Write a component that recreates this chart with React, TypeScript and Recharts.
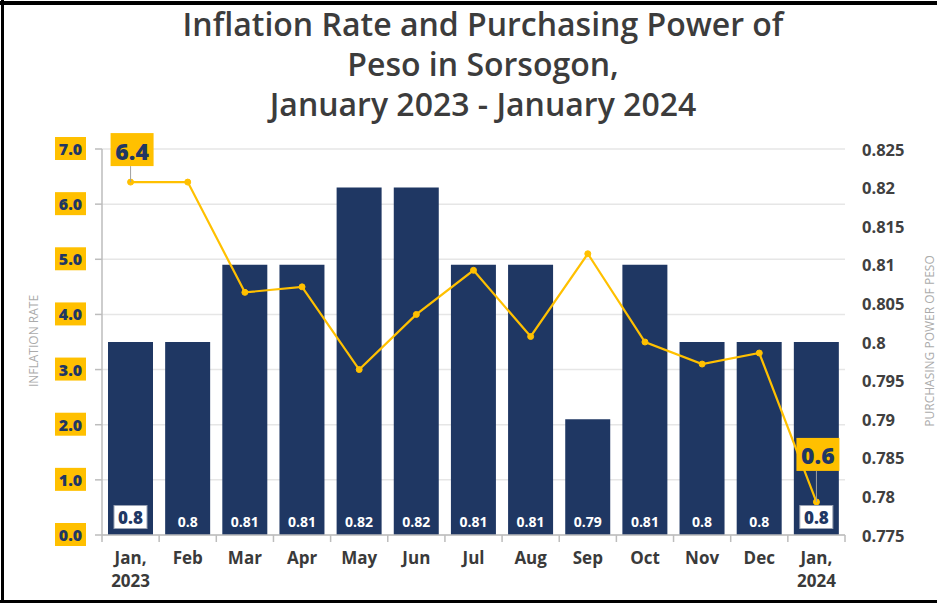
import React from 'react';
import { ComposedChart, Bar, Line, XAxis, YAxis, CartesianGrid, LabelList } from 'recharts';

const categories = ['Jan, 2023', 'Feb', 'Mar', 'Apr', 'May', 'Jun', 'Jul', 'Aug', 'Sep', 'Oct', 'Nov', 'Dec', 'Jan, 2024'];
const purchasingPower = [0.8, 0.8, 0.81, 0.81, 0.82, 0.82, 0.81, 0.81, 0.79, 0.81, 0.8, 0.8, 0.8];
const inflationRate = [6.4, 6.4, 4.4, 4.5, 3.0, 4.0, 4.8, 3.6, 5.1, 3.5, 3.1, 3.3, 0.6];
const leftTicks = [0, 1, 2, 3, 4, 5, 6, 7];
const rightTicks = [0.775, 0.78, 0.785, 0.79, 0.795, 0.8, 0.805, 0.81, 0.815, 0.82, 0.825];
const titleLines = ['Inflation Rate and Purchasing Power of', 'Peso in Sorsogon,', 'January 2023 - January 2024'];

const data = categories.map((c, i) => ({ month: c, pp: purchasingPower[i], inf: inflationRate[i] }));

const W = 937;
const H = 603;
const PLOT_LEFT = 102;
const PLOT_RIGHT = 845;
const PLOT_TOP = 149;
const PLOT_BOTTOM = 535;
const BAND = (PLOT_RIGHT - PLOT_LEFT) / categories.length;

const NAVY = '#1F3763';
const YELLOW = '#FFC000';
const FONT = '"Open Sans", "Noto Sans", sans-serif';
const LAST = categories.length - 1;

const LeftTick = (props: any) => {
  const { y, payload } = props;
  const right = 86;
  return (
    <g>
      <rect x={right - 31} y={y - 12} width={31} height={23} fill={YELLOW} />
      <text x={right - 15.5} y={y} textAnchor="middle" dominantBaseline="central" fill={NAVY}
        fontFamily={FONT} fontWeight={800} fontSize={16}>
        {Number(payload.value).toFixed(1)}
      </text>
    </g>
  );
};

const RightTick = (props: any) => {
  const { y, payload } = props;
  return (
    <text x={862} y={y} textAnchor="start" dominantBaseline="central" fill="#404040"
      fontFamily={FONT} fontWeight={700} fontSize={16.5}>
      {String(payload.value)}
    </text>
  );
};

const XTick = (props: any) => {
  const { x, payload, index } = props;
  const parts = String(payload.value).split(', ');
  const lines = parts.length > 1 ? [parts[0] + ',', parts[1]] : parts;
  return (
    <g>
      <line x1={x - BAND / 2} x2={x - BAND / 2} y1={PLOT_BOTTOM} y2={PLOT_BOTTOM + 7} stroke="#bdbdbd" strokeWidth={1.5} />
      {index === LAST && (
        <line x1={x + BAND / 2} x2={x + BAND / 2} y1={PLOT_BOTTOM} y2={PLOT_BOTTOM + 7} stroke="#bdbdbd" strokeWidth={1.5} />
      )}
      {lines.map((l, i) => (
        <text key={i} x={x} y={PLOT_BOTTOM + 29 + i * 23} textAnchor="middle" fill="#3a3a3a"
          fontFamily={FONT} fontWeight={700} fontSize={17}>
          {l}
        </text>
      ))}
    </g>
  );
};

const BarValueLabel = (props: any) => {
  const { x, y, width, height, value, index } = props;
  const cx = x + width / 2;
  const boxed = index === 0 || index === LAST;
  if (boxed) {
    const cy = y + height - 18;
    return (
      <g>
        <rect x={cx - 16.5} y={cy - 11.5} width={33} height={23} fill="#ffffff" stroke="#9aa3b5" strokeWidth={1} />
        <text x={cx} y={cy} textAnchor="middle" dominantBaseline="central" fill={NAVY}
          fontFamily={FONT} fontWeight={800} fontSize={17}>
          {value}
        </text>
      </g>
    );
  }
  return (
    <text x={cx} y={y + height - 14} textAnchor="middle" dominantBaseline="central" fill="#ffffff"
      fontFamily={FONT} fontWeight={700} fontSize={14}>
      {value}
    </text>
  );
};

const LineCallout = (props: any) => {
  const { x, y, value, index } = props;
  if (index !== 0 && index !== LAST) return null;
  const top = index === 0 ? y - 49 : y - 64;
  const bh = 33;
  const bw = 43;
  return (
    <g>
      <line x1={x} x2={x} y1={top + bh} y2={y} stroke="#a0a0a0" strokeWidth={1} />
      <rect x={x - 20} y={top} width={bw} height={bh} fill={YELLOW} />
      <text x={x + 1.5} y={top + bh / 2 + 1} textAnchor="middle" dominantBaseline="central" fill={NAVY}
        fontFamily={FONT} fontWeight={800} fontSize={23}>
        {Number(value).toFixed(1)}
      </text>
    </g>
  );
};

export default function App() {
  return (
    <div style={{ position: 'absolute', left: 0, top: 0, width: W, height: H, background: '#ffffff', overflow: 'hidden' }}>
      <div style={{ position: 'absolute', left: 483, top: 4, transform: 'translateX(-50%)', textAlign: 'center',
        fontFamily: FONT, fontWeight: 600, fontSize: 32, lineHeight: '40px', color: '#3c3c3c', whiteSpace: 'nowrap' }}>
        {titleLines.map((t, i) => (<div key={i}>{t}</div>))}
      </div>
      <div style={{ position: 'absolute', left: 0, top: 0 }}>
        <ComposedChart width={W} height={H} data={data}
          margin={{ top: PLOT_TOP, right: 0, bottom: 0, left: 0 }} barCategoryGap="10.5%">
          <CartesianGrid yAxisId="left" vertical={false} stroke="#e6e6e6" strokeWidth={1.5} />
          <XAxis dataKey="month" height={H - PLOT_BOTTOM} tick={<XTick />} tickLine={false}
            axisLine={{ stroke: '#bdbdbd', strokeWidth: 1.5 }} interval={0} tickSize={0} tickMargin={0} />
          <YAxis yAxisId="left" orientation="left" width={PLOT_LEFT} domain={[0, 7]} ticks={leftTicks}
            tick={<LeftTick />} tickLine={{ stroke: '#bdbdbd', strokeWidth: 1.5 }} tickSize={7}
            axisLine={{ stroke: '#bdbdbd', strokeWidth: 1.5 }} interval={0} />
          <YAxis yAxisId="right" orientation="right" width={W - PLOT_RIGHT} domain={[0.775, 0.825]} ticks={rightTicks}
            tick={<RightTick />} tickLine={false} axisLine={false} interval={0} />
          <Bar yAxisId="right" dataKey="pp" fill={NAVY} isAnimationActive={false}>
            <LabelList dataKey="pp" content={<BarValueLabel />} />
          </Bar>
          <Line yAxisId="left" dataKey="inf" stroke={YELLOW} strokeWidth={2.2} isAnimationActive={false}
            dot={{ r: 3, fill: YELLOW, stroke: YELLOW, strokeWidth: 1 }}>
            <LabelList dataKey="inf" content={<LineCallout />} />
          </Line>
        </ComposedChart>
      </div>
      <svg style={{ position: 'absolute', left: 0, top: 0, pointerEvents: 'none' }} width={W} height={H}>
        <text transform="translate(38,341) rotate(-90)" textAnchor="middle" fill="#ababab"
          fontFamily={FONT} fontSize={12}>INFLATION RATE</text>
        <text transform="translate(934,341) rotate(-90)" textAnchor="middle" fill="#ababab"
          fontFamily={FONT} fontSize={12}>PURCHASING POWER OF PESO</text>
        <rect x={0} y={1} width={W} height={4} fill="#000000" />
        <rect x={1} y={0} width={3} height={H} fill="#000000" />
        <rect x={0} y={H - 3} width={W} height={3} fill="#000000" />
      </svg>
    </div>
  );
}
